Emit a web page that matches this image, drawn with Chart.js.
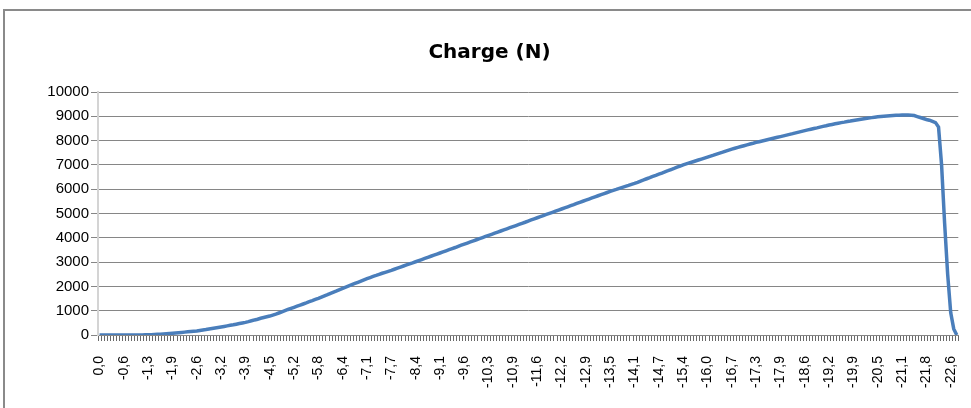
<!DOCTYPE html>
<html>
<head>
<meta charset="utf-8">
<script src="https://cdn.jsdelivr.net/npm/chart.js@4/dist/chart.umd.min.js"></script>
<style>
  html, body { margin: 0; padding: 0; background: #fff; overflow: hidden; }
  #wrap { position: relative; width: 971px; height: 408px; }
  #frame { position: absolute; left: 3px; top: 9px; width: 1000px; height: 500px;
           border: 2px solid #8a8a8a; box-sizing: border-box; pointer-events: none; }
</style>
</head>
<body>
<div id="wrap">
  <canvas id="chart"></canvas>
  <div id="frame"></div>
</div>
<script>
// visible x tick labels (every 8th category)
const tickLabels = ['0,0', '-0,6', '-1,3', '-1,9', '-2,6', '-3,2', '-3,9', '-4,5', '-5,2', '-5,8',
  '-6,4', '-7,1', '-7,7', '-8,4', '-9,1', '-9,6', '-10,3', '-10,9', '-11,6', '-12,2',
  '-12,9', '-13,5', '-14,1', '-14,7', '-15,4', '-16,0', '-16,7', '-17,3', '-17,9', '-18,6',
  '-19,2', '-19,9', '-20,5', '-21,1', '-21,8', '-22,6'];
const labelEvery = 8;

// load values (N), one per category
const charge = [
  0, 0, 0, 0, 0, 0, 0, 0,
  0, 0, 0, 0, 2, 3, 5, 8,
  10, 14, 20, 28, 35, 45, 55, 62,
  70, 80, 92, 105, 118, 130, 142, 155,
  165, 185, 205, 225, 248, 270, 290, 310,
  330, 352, 375, 398, 420, 445, 470, 495,
  520, 550, 585, 620, 650, 690, 720, 750,
  780, 820, 860, 905, 950, 1000, 1050, 1095,
  1140, 1185, 1230, 1275, 1320, 1370, 1415, 1465,
  1510, 1560, 1610, 1660, 1715, 1765, 1815, 1870,
  1920, 1970, 2020, 2070, 2120, 2170, 2220, 2270,
  2320, 2365, 2410, 2450, 2495, 2540, 2580, 2620,
  2660, 2705, 2750, 2795, 2840, 2885, 2930, 2970,
  3015, 3060, 3105, 3150, 3195, 3240, 3285, 3330,
  3375, 3420, 3465, 3510, 3555, 3600, 3650, 3695,
  3740, 3785, 3830, 3875, 3920, 3965, 4010, 4055,
  4100, 4145, 4190, 4235, 4280, 4325, 4370, 4415,
  4460, 4505, 4550, 4595, 4640, 4690, 4735, 4780,
  4825, 4870, 4915, 4960, 5005, 5050, 5095, 5140,
  5185, 5230, 5275, 5320, 5365, 5415, 5460, 5505,
  5550, 5595, 5640, 5685, 5730, 5775, 5820, 5865,
  5910, 5950, 5990, 6035, 6075, 6115, 6155, 6200,
  6240, 6285, 6335, 6380, 6430, 6475, 6525, 6570,
  6620, 6665, 6715, 6760, 6810, 6855, 6905, 6950,
  7000, 7040, 7080, 7120, 7160, 7200, 7240, 7280,
  7320, 7360, 7400, 7445, 7485, 7525, 7570, 7610,
  7650, 7685, 7720, 7755, 7790, 7825, 7860, 7890,
  7925, 7955, 7985, 8015, 8045, 8075, 8105, 8135,
  8165, 8195, 8225, 8255, 8285, 8320, 8350, 8380,
  8410, 8440, 8470, 8500, 8525, 8555, 8585, 8610,
  8640, 8665, 8690, 8715, 8740, 8760, 8785, 8805,
  8830, 8850, 8870, 8890, 8910, 8930, 8945, 8965,
  8980, 8990, 9000, 9010, 9020, 9030, 9040, 9045,
  9050, 9050, 9050, 9040, 9030, 8990, 8950, 8910,
  8870, 8840, 8790, 8740, 8560, 7000, 4600, 2500,
  920, 250, 0
];

// one category per value, named only where the axis shows a label
const categories = charge.map((v, i) => i % labelEvery === 0 ? tickLabels[i / labelEvery] : '');

const gray = '#868686';

// keep the title centred on the outer frame, not on the plot
const centerTitle = {
  id: 'centerTitle',
  afterLayout(chart) {
    const t = chart.titleBlock;
    t.left = 4;
    t.right = 975;
    t.width = t.right - t.left;
  }
};

const ctx = document.getElementById('chart').getContext('2d');
new Chart(ctx, {
  type: 'line',
  data: {
    labels: categories,
    datasets: [{
      label: 'Charge (N)',
      data: charge,
      borderColor: '#4a7ebb',
      borderWidth: 3.5,
      pointRadius: 0,
      tension: 0,
      fill: false
    }]
  },
  options: {
    responsive: true,
    maintainAspectRatio: false,
    animation: false,
    layout: { padding: { left: 0, right: 12.7, top: 0, bottom: 0 } },
    plugins: {
      legend: { display: false },
      tooltip: { enabled: false },
      title: {
        display: true,
        text: 'Charge (N)',
        color: '#000',
        font: { family: 'DejaVu Sans', size: 20, weight: 'bold' },
        padding: { top: 41, bottom: 27 }
      }
    },
    scales: {
      x: {
        offset: true,
        grid: {
          offset: true,
          drawOnChartArea: false,
          drawTicks: true,
          tickLength: 6,
          lineWidth: 1,
          color: '#6a6a6a',
          tickColor: '#6a6a6a'
        },
        border: { color: gray, width: 1 },
        ticks: {
          autoSkip: false,
          minRotation: 90,
          maxRotation: 90,
          padding: 15,
          color: '#000',
          font: { family: 'Liberation Sans', size: 14 },
          callback: (v, i) => categories[i]
        },
        afterFit: (s) => { s.height = 73; s.paddingLeft = 0; s.paddingRight = 0; }
      },
      y: {
        min: 0,
        max: 10000,
        ticks: {
          stepSize: 1000,
          padding: 2,
          color: '#000',
          font: { family: 'Liberation Sans', size: 15 },
          callback: (v) => String(v)
        },
        grid: { color: gray, lineWidth: 1, tickLength: 7 },
        border: { color: '#d4d4d4', width: 2 },
        afterFit: (s) => { s.width = 98; }
      }
    }
  },
  plugins: [centerTitle]
});
</script>
</body>
</html>
